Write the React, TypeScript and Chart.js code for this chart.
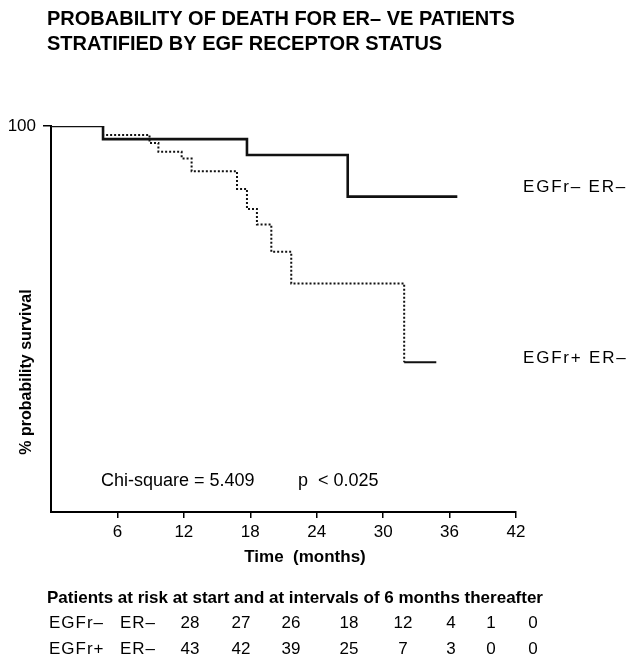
import React, { useEffect, useRef } from "react";
import { Chart, registerables } from "chart.js";

Chart.register(...registerables);

// ---- data ----
const titleLines = ["PROBABILITY OF DEATH FOR ER– VE PATIENTS", "STRATIFIED BY EGF RECEPTOR STATUS"];
const seriesLabels = ["EGFr– ER–", "EGFr+ ER–"];
const egfrNegTimes = [0, 4.7, 17.7, 26.8, 36.7];
const egfrNegSurvival = [100, 96.6, 92.5, 81.7, 81.7];
const egfrPosTimes = [0, 4.7, 8.9, 9.7, 11.8, 12.7, 16.8, 17.7, 18.6, 19.9, 21.7, 31.9, 34.8];
const egfrPosSurvival = [100, 97.7, 95.6, 93.3, 91.6, 88.3, 83.7, 78.5, 74.5, 67.4, 59.2, 38.8, 38.8];
const xTickValues = [6, 12, 18, 24, 30, 36, 42];
const yTickValues = [100];
const xAxisTitle = "Time  (months)";
const yAxisTitle = "% probability survival";
const statText = "Chi-square = 5.409";
const pText = "p  < 0.025";
const riskHeader = "Patients at risk at start and at intervals of 6 months thereafter";
const riskRowLabels = [["EGFr–", "ER–"], ["EGFr+", "ER–"]];
const riskNeg = [28, 27, 26, 18, 12, 4, 1, 0];
const riskPos = [43, 42, 39, 25, 7, 3, 0, 0];

const FONT = '"Liberation Sans", Arial, Helvetica, sans-serif';

const toPoints = (xs: number[], ys: number[]) => xs.map((x, i) => ({ x, y: ys[i] }));

// layout of the at-risk table (column centres in px)
const riskColX = [190, 241, 291, 349, 403, 451, 491, 533];

const annotationPlugin = {
  id: "annotations",
  afterDraw(chart: any) {
    const ctx = chart.ctx as CanvasRenderingContext2D;
    const ys = chart.scales.y;
    ctx.save();
    ctx.fillStyle = "#000";
    ctx.textAlign = "left";
    ctx.textBaseline = "alphabetic";

    // title
    ctx.font = `bold 20px ${FONT}`;
    ctx.fillText(titleLines[0], 47, 25);
    ctx.fillText(titleLines[1], 47, 50);

    // y axis title
    ctx.save();
    ctx.translate(27, 372);
    ctx.rotate(-Math.PI / 2);
    ctx.font = `bold 16px ${FONT}`;
    ctx.textAlign = "center";
    ctx.textBaseline = "middle";
    ctx.fillText(yAxisTitle, 0, 0);
    ctx.restore();

    // x axis title
    ctx.font = `bold 17px ${FONT}`;
    ctx.textAlign = "center";
    ctx.textBaseline = "middle";
    ctx.fillText(xAxisTitle, 305, 557);

    // statistics
    ctx.font = `18px ${FONT}`;
    ctx.textAlign = "left";
    ctx.fillText(statText, 101, 481);
    ctx.fillText(pText, 298, 481);

    // series labels at the right
    ctx.font = `17px ${FONT}`;
    (ctx as any).letterSpacing = "1.8px";
    const negEnd = egfrNegSurvival[egfrNegSurvival.length - 1];
    const posEnd = egfrPosSurvival[egfrPosSurvival.length - 1];
    ctx.fillText(seriesLabels[0], 523, ys.getPixelForValue(negEnd) - 9);
    ctx.fillText(seriesLabels[1], 523, ys.getPixelForValue(posEnd) - 4);
    (ctx as any).letterSpacing = "0px";

    // at-risk table
    ctx.font = `bold 17px ${FONT}`;
    ctx.fillText(riskHeader, 47, 598);
    const rows = [riskNeg, riskPos];
    const rowY = [623, 649];
    rows.forEach((vals, r) => {
      ctx.font = `17px ${FONT}`;
      ctx.textAlign = "left";
      (ctx as any).letterSpacing = "1px";
      ctx.fillText(riskRowLabels[r][0], 49, rowY[r]);
      ctx.fillText(riskRowLabels[r][1], 120, rowY[r]);
      (ctx as any).letterSpacing = "0px";
      ctx.textAlign = "center";
      vals.forEach((v, i) => ctx.fillText(String(v), riskColX[i], rowY[r]));
    });
    ctx.restore();
  },
};

export default function App() {
  const canvasRef = useRef<HTMLCanvasElement | null>(null);

  useEffect(() => {
    const canvas = canvasRef.current;
    if (!canvas) return;
    const lastPosSeg = egfrPosTimes.length - 2;
    const chart = new Chart(canvas, {
      type: "line",
      data: {
        datasets: [
          {
            label: seriesLabels[1],
            data: toPoints(egfrPosTimes, egfrPosSurvival),
            borderColor: "#111",
            borderWidth: 2,
            borderDash: [2, 2],
            stepped: "before",
            pointRadius: 0,
            fill: false,
            segment: {
              borderDash: (c: any) => (c.p0DataIndex === lastPosSeg ? [] : [2, 2]),
            },
          },
          {
            label: seriesLabels[0],
            data: toPoints(egfrNegTimes, egfrNegSurvival),
            borderColor: "#111",
            borderWidth: 2.6,
            stepped: "before",
            pointRadius: 0,
            fill: false,
          },
        ],
      },
      options: {
        responsive: false,
        animation: false,
        events: [],
        layout: { padding: { left: 0, right: 118, top: 126, bottom: 0 } },
        plugins: {
          legend: { display: false },
          tooltip: { enabled: false },
          title: { display: false },
        },
        scales: {
          x: {
            type: "linear",
            min: 0,
            max: 42,
            afterBuildTicks: (s: any) => {
              s.ticks = xTickValues.map((v) => ({ value: v }));
            },
            afterFit: (s: any) => {
              s.height = 149;
            },
            border: { display: true, color: "#000", width: 2 },
            grid: { display: true, drawOnChartArea: false, drawTicks: true, tickLength: 6, color: "#000", lineWidth: 1.5 },
            ticks: { color: "#000", font: { family: FONT, size: 17 }, padding: 4, maxRotation: 0, autoSkip: false },
          },
          y: {
            type: "linear",
            min: 0,
            max: 100,
            afterBuildTicks: (s: any) => {
              s.ticks = yTickValues.map((v) => ({ value: v }));
            },
            afterFit: (s: any) => {
              s.width = 51;
            },
            border: { display: true, color: "#000", width: 2 },
            grid: { display: true, drawOnChartArea: false, drawTicks: true, tickLength: 8, color: "#000", lineWidth: 1.5 },
            ticks: { color: "#000", font: { family: FONT, size: 17 }, padding: 7 },
          },
        },
      },
      plugins: [annotationPlugin],
    } as any);
    return () => chart.destroy();
  }, []);

  return (
    <div style={{ position: "absolute", left: 0, top: 0, width: 634, height: 661, background: "#fff" }}>
      <canvas ref={canvasRef} width={634} height={661} style={{ display: "block" }} />
    </div>
  );
}
